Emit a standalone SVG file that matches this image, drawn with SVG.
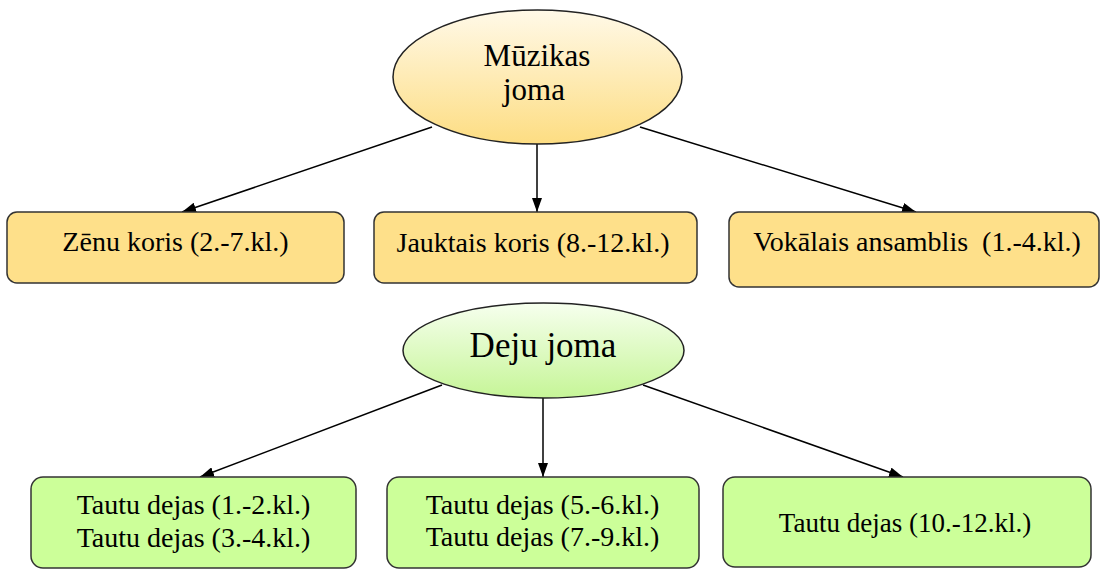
<svg xmlns="http://www.w3.org/2000/svg" width="1102" height="571" viewBox="0 0 1102 571">
<defs>
<linearGradient id="gY" x1="0" y1="0" x2="0" y2="1">
<stop offset="0" stop-color="#FFF9E8"/>
<stop offset="1" stop-color="#FDDD82"/>
</linearGradient>
<linearGradient id="gG" x1="0" y1="0" x2="0" y2="1">
<stop offset="0" stop-color="#F6FFEE"/>
<stop offset="1" stop-color="#C6F597"/>
</linearGradient>
<marker id="ah" viewBox="0 0 14 10" refX="14" refY="5" markerWidth="14" markerHeight="10" markerUnits="userSpaceOnUse" orient="auto">
<path d="M0,0 L14,5 L0,10 Z" fill="#000"/>
</marker>
<style>
.t{font-family:"Liberation Serif","Times New Roman",serif;fill:#000;text-anchor:middle}
.yb{fill:#FEE08A;stroke:#333;stroke-width:1.5}
.gb{fill:#CCFF99;stroke:#333;stroke-width:1.5}
.el{stroke:#222;stroke-width:1.5}
.c{stroke:#000;stroke-width:1.5;fill:none;marker-end:url(#ah)}
</style>
</defs>
<rect width="1102" height="571" fill="#fff"/>
<g id="connectors">
<line class="c" x1="432" y1="127" x2="182" y2="212"/>
<line class="c" x1="537" y1="144" x2="537" y2="212"/>
<line class="c" x1="640" y1="127" x2="916" y2="212"/>
<line class="c" x1="442" y1="385" x2="200" y2="477"/>
<line class="c" x1="543" y1="398" x2="543" y2="477"/>
<line class="c" x1="643" y1="385" x2="903" y2="477"/>
</g>
<g id="muzikas">
<ellipse class="el" cx="537.5" cy="77" rx="144.5" ry="67" fill="url(#gY)"/>
<text class="t" x="537" y="65.5" font-size="31">Mūzikas</text>
<text class="t" x="534" y="100" font-size="31">joma</text>
</g>
<g id="zenu">
<rect class="yb" x="7" y="212" width="337" height="71" rx="10"/>
<text class="t" x="175.5" y="251" font-size="28">Zēnu koris (2.-7.kl.)</text>
</g>
<g id="jauktais">
<rect class="yb" x="374" y="212" width="323" height="71" rx="10"/>
<text class="t" x="533" y="252" font-size="28">Jauktais koris (8.-12.kl.)</text>
</g>
<g id="vokalais">
<rect class="yb" x="729" y="212" width="370" height="75" rx="10"/>
<text class="t" x="917" y="251" font-size="28" xml:space="preserve">Vokālais ansamblis&#160; (1.-4.kl.)</text>
</g>
<g id="deju">
<ellipse class="el" cx="543.5" cy="350.5" rx="140.5" ry="47.5" fill="url(#gG)"/>
<text class="t" x="543" y="357" font-size="35">Deju joma</text>
</g>
<g id="tautu1">
<rect class="gb" x="31" y="477" width="325" height="91" rx="12"/>
<text class="t" x="193.5" y="514" font-size="28">Tautu dejas (1.-2.kl.)</text>
<text class="t" x="193.5" y="547" font-size="28">Tautu dejas (3.-4.kl.)</text>
</g>
<g id="tautu2">
<rect class="gb" x="387" y="477" width="312" height="91" rx="12"/>
<text class="t" x="542.5" y="514" font-size="28">Tautu dejas (5.-6.kl.)</text>
<text class="t" x="542.5" y="546" font-size="28">Tautu dejas (7.-9.kl.)</text>
</g>
<g id="tautu3">
<rect class="gb" x="723" y="477" width="368" height="90" rx="12"/>
<text class="t" x="905" y="532" font-size="27">Tautu dejas (10.-12.kl.)</text>
</g>
</svg>
